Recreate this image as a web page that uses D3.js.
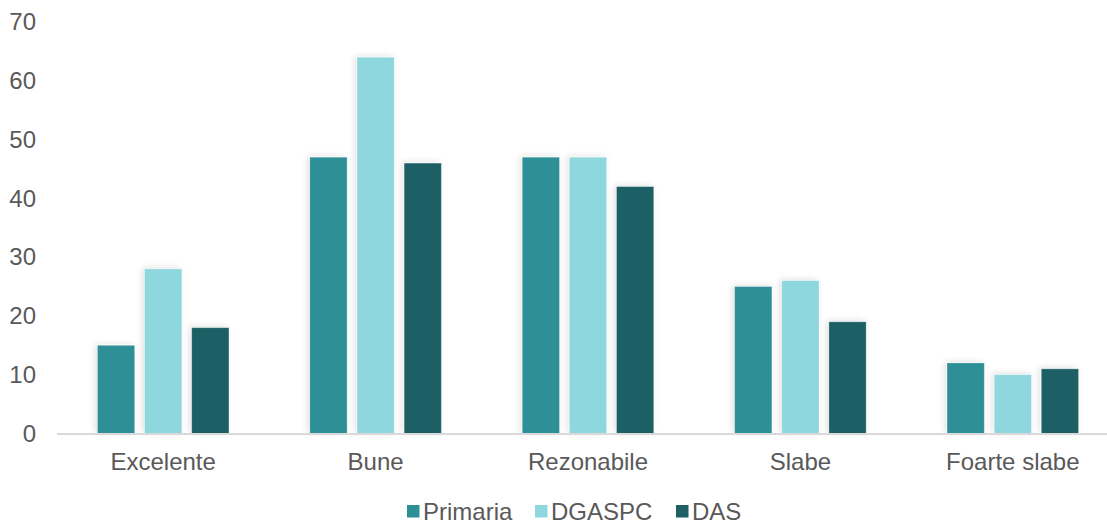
<!DOCTYPE html>
<html>
<head>
<meta charset="utf-8">
<script src="https://cdn.jsdelivr.net/npm/d3@7"></script>
<style>
  html, body { margin: 0; padding: 0; background: #fff; }
  svg { display: block; font-family: "Liberation Sans", Arial, sans-serif; }
</style>
</head>
<body>
<svg id="chart" width="1107" height="523"></svg>
<script>
// Ratings by category, one array per institution
const categories = ["Excelente", "Bune", "Rezonabile", "Slabe", "Foarte slabe"];
const seriesNames = ["Primaria", "DGASPC", "DAS"];
const primaria = [15, 47, 47, 25, 12];
const dgaspc = [28, 64, 47, 26, 10];
const das = [18, 46, 42, 19, 11];
const yTicks = [0, 10, 20, 30, 40, 50, 60, 70];
const colors = ["#2e8f96", "#8fd7de", "#1f6065"];

const values = [primaria, dgaspc, das];
const rows = categories.map((c, i) => ({
  category: c,
  items: seriesNames.map((s, k) => ({ series: s, value: values[k][i], k }))
}));

const svg = d3.select("#chart");
const W = 1107, H = 523;
const margin = { top: 22, bottom: 89.5, left: 57 };
// plot area runs a little past the right edge of the canvas
const plotW = 1062;
const innerH = H - margin.top - margin.bottom;
const fontSize = "24px";
const textColor = "#595959";

const defs = svg.append("defs");
const f = defs.append("filter").attr("id", "shadow")
  .attr("x", "-30%").attr("y", "-10%").attr("width", "160%").attr("height", "120%");
f.append("feDropShadow").attr("dx", -2).attr("dy", -1).attr("stdDeviation", 3)
  .attr("flood-color", "#000").attr("flood-opacity", 0.12);

const g = svg.append("g").attr("transform", `translate(${margin.left},${margin.top})`);

const x0 = d3.scaleBand().domain(categories).range([0, plotW]).paddingInner(0).paddingOuter(0);
const groupW = 131.5;
const x1 = d3.scaleBand().domain(seriesNames)
  .range([(x0.bandwidth() - groupW) / 2, (x0.bandwidth() + groupW) / 2])
  .paddingInner(0.21).paddingOuter(0);
const y = d3.scaleLinear().domain([0, 70]).range([innerH, 0]);

// Y axis labels
const yAxis = g.append("g").call(d3.axisLeft(y).tickValues(yTicks).tickSize(0).tickPadding(21));
yAxis.select(".domain").remove();
yAxis.selectAll("text")
  .attr("fill", textColor).style("font-size", fontSize);

// Bars
const groups = g.selectAll(".grp").data(rows).join("g")
  .attr("class", "grp")
  .attr("transform", d => `translate(${x0(d.category)},0)`);
groups.selectAll("rect").data(d => d.items).join("rect")
  .attr("x", d => x1(d.series))
  .attr("y", d => y(d.value))
  .attr("width", x1.bandwidth())
  .attr("height", d => innerH - y(d.value))
  .attr("fill", d => colors[d.k])
  .attr("stroke", "#ffffff")
  .attr("stroke-opacity", 0.35)
  .attr("stroke-width", 0.8)
  .attr("filter", "url(#shadow)");

// X axis baseline and category labels
g.append("line")
  .attr("x1", 0).attr("x2", plotW)
  .attr("y1", innerH + 0.5).attr("y2", innerH + 0.5)
  .attr("stroke", "#d9d9d9").attr("stroke-width", 2);

g.selectAll(".cat").data(categories).join("text")
  .attr("class", "cat")
  .attr("x", d => x0(d) + x0.bandwidth() / 2)
  .attr("y", innerH + 36)
  .attr("text-anchor", "middle")
  .attr("fill", textColor).style("font-size", fontSize)
  .text(d => d);

// Legend
const legend = svg.append("g").attr("transform", `translate(0,${H - 3})`);
const legendX = [407, 535, 676];
seriesNames.forEach((s, k) => {
  legend.append("rect")
    .attr("x", legendX[k]).attr("y", -15)
    .attr("width", 12.5).attr("height", 12.5)
    .attr("fill", colors[k]);
  legend.append("text")
    .attr("x", legendX[k] + 16).attr("y", 0)
    .attr("fill", textColor).style("font-size", fontSize)
    .text(s);
});
</script>
</body>
</html>
